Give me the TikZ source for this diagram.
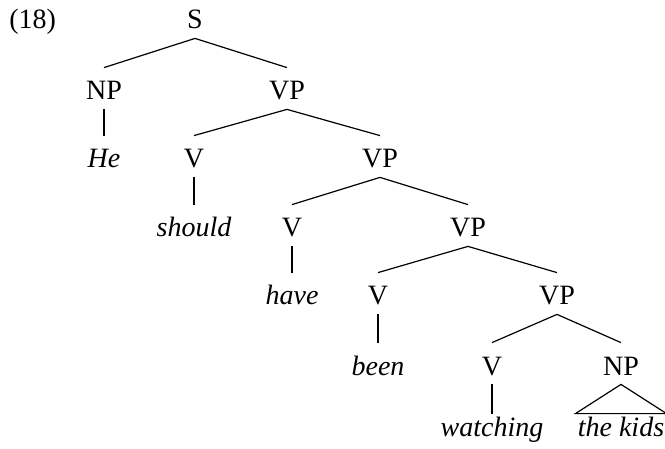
\documentclass[tikz,border=0pt]{standalone}
\usepackage{fontspec}
\setmainfont{Liberation Serif}
\usetikzlibrary{positioning,calc}

\begin{document}
\begin{tikzpicture}[x=0.5pt,y=-0.5pt]
%% node shape and font
\tikzstyle{cat}=[anchor=base,font=\fontsize{14}{16}\selectfont,text height=13pt,text depth=1.5pt,inner xsep=1pt,inner ysep=3pt]
\tikzstyle{word}=[cat,font=\fontsize{14}{16}\selectfont\itshape]
\tikzstyle{lowword}=[word,text height=10pt,inner ysep=1.5pt]
\tikzstyle{branch}=[line width=0.6pt]
\useasboundingbox (0,0) rectangle (665,449);
%%%%%%%%%%%%%%%%%%%%%%%%%%%%%%%%%%%%%%%%%%%%%%%%%%%%%%%%%%%%%%%%%%%%%%%%
%example number
\node[cat,anchor=base west] (exno) at (7,29) {(18)};
%root
\node[cat] (S) at (195,29) {S};
%1
\node[cat] (NP) at (104,100) {NP};
\node[cat] (VP1) at (287,100) {VP};
%2
\node[word] (he) at (104,168) {He};
\node[cat] (V1) at (194,168) {V};
\node[cat] (VP2) at (380,168) {VP};
%3
\node[word] (should) at (194,237) {should};
\node[cat] (V2) at (292,237) {V};
\node[cat] (VP3) at (468,237) {VP};
%4
\node[word] (have) at (292,305) {have};
\node[cat] (V3) at (378,305) {V};
\node[cat] (VP4) at (557,305) {VP};
%5
\node[word] (been) at (378,375) {been};
\node[cat] (V4) at (492,375) {V};
\node[cat] (NP2) at (621,375) {NP};
%6
\node[lowword] (watching) at (492,437) {watching};
\node[lowword] (kids) at (621,437) {the kids};

%%%%%%%%%%%%%%%%%%%%%%%%%%%%%%%%%%%%%%%%%%%%%%%%%%%%%%%%%%%%%%
%BRANCHES
\draw[branch] (S.south) -- (NP.north);
\draw[branch] (S.south) -- (VP1.north);
\draw[branch] (NP.south) -- (he.north);
\draw[branch] (VP1.south) -- (V1.north);
\draw[branch] (VP1.south) -- (VP2.north);
\draw[branch] (V1.south) -- (should.north);
\draw[branch] (VP2.south) -- (V2.north);
\draw[branch] (VP2.south) -- (VP3.north);
\draw[branch] (V2.south) -- (have.north);
\draw[branch] (VP3.south) -- (V3.north);
\draw[branch] (VP3.south) -- (VP4.north);
\draw[branch] (V3.south) -- (been.north);
\draw[branch] (VP4.south) -- (V4.north);
\draw[branch] (VP4.south) -- (NP2.north);
\draw[branch] (V4.south) -- (watching.north);
%roof
\draw[branch] (NP2.south) -- (kids.north west) -- (kids.north east) -- cycle;
\end{tikzpicture}
\end{document}
